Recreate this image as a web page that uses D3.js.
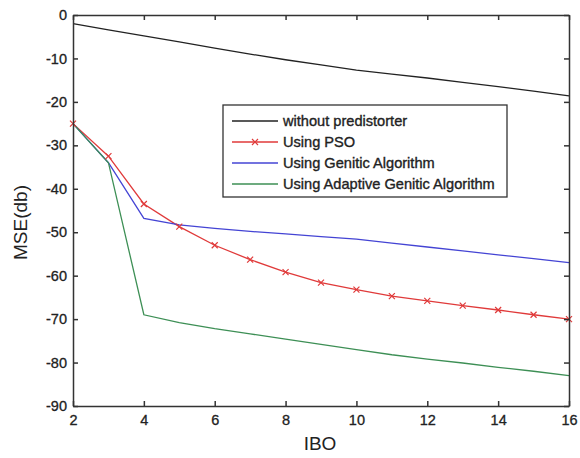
<!DOCTYPE html>
<html><head><meta charset="utf-8">
<script src="https://cdn.jsdelivr.net/npm/d3@7"></script>
<style>body{margin:0;background:#fff}svg{display:block}</style>
</head><body><svg id="c" width="580" height="458"></svg>
<script>
const ibo = [2,3,4,5,6,7,8,9,10,11,12,13,14,15,16];
const withoutPredistorter = [-2,-3.4,-4.8,-6.2,-7.6,-9,-10.3,-11.5,-12.7,-13.6,-14.5,-15.5,-16.5,-17.5,-18.6];
const usingPSO = [-25,-32.5,-43.5,-48.7,-53,-56.3,-59.2,-61.6,-63.2,-64.7,-65.8,-66.9,-67.9,-69,-70];
const usingGA = [-25,-34,-46.8,-48.3,-49.1,-49.8,-50.4,-51,-51.6,-52.5,-53.4,-54.3,-55.2,-56.1,-57];
const usingAGA = [-25,-34,-69,-70.8,-72.2,-73.4,-74.6,-75.8,-77,-78.2,-79.2,-80.1,-81.1,-82,-83];
const seriesNames = ["without predistorter","Using PSO","Using Genitic Algorithm","Using Adaptive Genitic Algorithm"];
const seriesColors = ["#222222","#e03a3a","#4444d4","#3d8f55"];
const xTicks = [2,4,6,8,10,12,14,16];
const yTicks = [0,-10,-20,-30,-40,-50,-60,-70,-80,-90];

const svg = d3.select("#c");
const L=73,R=569,T=15,B=406;
const x = d3.scaleLinear().domain([2,16]).range([L,R]);
const y = d3.scaleLinear().domain([-90,0]).range([B,T]);
const font = "Liberation Sans, Arial, sans-serif";

const series = [withoutPredistorter,usingPSO,usingGA,usingAGA];
const line = d3.line().x((d,i)=>x(ibo[i])).y(d=>y(d));
series.forEach((s,k)=>{
  svg.append("path").attr("d",line(s)).attr("fill","none")
    .attr("stroke",seriesColors[k]).attr("stroke-width",1.3);
});
// PSO markers
const mk = 3;
svg.append("g").selectAll("path").data(usingPSO).join("path")
  .attr("d",(d,i)=>{const cx=x(ibo[i]),cy=y(d);return `M${cx-mk},${cy-mk}L${cx+mk},${cy+mk}M${cx-mk},${cy+mk}L${cx+mk},${cy-mk}`;})
  .attr("stroke",seriesColors[1]).attr("stroke-width",1.2);

// axes
const axCol="#333";
const fmt = d=>String(d);
const gB = svg.append("g").attr("transform",`translate(0,${B})`).call(d3.axisBottom(x).tickValues(xTicks).tickFormat(fmt).tickSizeInner(-5).tickSizeOuter(0).tickPadding(9));
const gT = svg.append("g").attr("transform",`translate(0,${T})`).call(d3.axisTop(x).tickValues(xTicks).tickSizeInner(-5).tickSizeOuter(0).tickFormat(""));
const gL = svg.append("g").attr("transform",`translate(${L},0)`).call(d3.axisLeft(y).tickValues(yTicks).tickFormat(fmt).tickSizeInner(-5).tickSizeOuter(0).tickPadding(6));
const gR = svg.append("g").attr("transform",`translate(${R},0)`).call(d3.axisRight(y).tickValues(yTicks).tickSizeInner(-5).tickSizeOuter(0).tickFormat(""));
[gB,gT,gL,gR].forEach(g=>{
  g.selectAll("path,line").attr("stroke",axCol).attr("stroke-width",1.5);
  g.selectAll("text").attr("font-family",font).attr("font-size",14.5).attr("fill","#222")
    .attr("stroke","#222").attr("stroke-width",0.3);
});

// axis labels
svg.append("text").attr("x",320).attr("y",450).attr("text-anchor","middle")
  .attr("font-family",font).attr("font-size",19).attr("fill","#222").text("IBO");
svg.append("text").attr("transform",`translate(27,${(T+B)/2+12}) rotate(-90)`).attr("text-anchor","middle")
  .attr("font-family",font).attr("font-size",19).attr("fill","#222").text("MSE(db)");

// legend
const lg = svg.append("g");
lg.append("rect").attr("x",223).attr("y",105).attr("width",284).attr("height",92)
  .attr("fill","#fff").attr("stroke",axCol).attr("stroke-width",1.3);
seriesNames.forEach((n,k)=>{
  const yy = 121 + k*21;
  lg.append("line").attr("x1",232).attr("x2",278).attr("y1",yy).attr("y2",yy)
    .attr("stroke",seriesColors[k]).attr("stroke-width",1.3);
  if(k===1){
    lg.append("path").attr("d",`M${255-mk},${yy-mk}L${255+mk},${yy+mk}M${255-mk},${yy+mk}L${255+mk},${yy-mk}`)
      .attr("stroke",seriesColors[1]).attr("stroke-width",1.2);
  }
  lg.append("text").attr("x",283).attr("y",yy+5).attr("font-family",font)
    .attr("font-size",14.6).attr("fill","#222").attr("stroke","#222").attr("stroke-width",0.35).text(n);
});
</script></body></html>
